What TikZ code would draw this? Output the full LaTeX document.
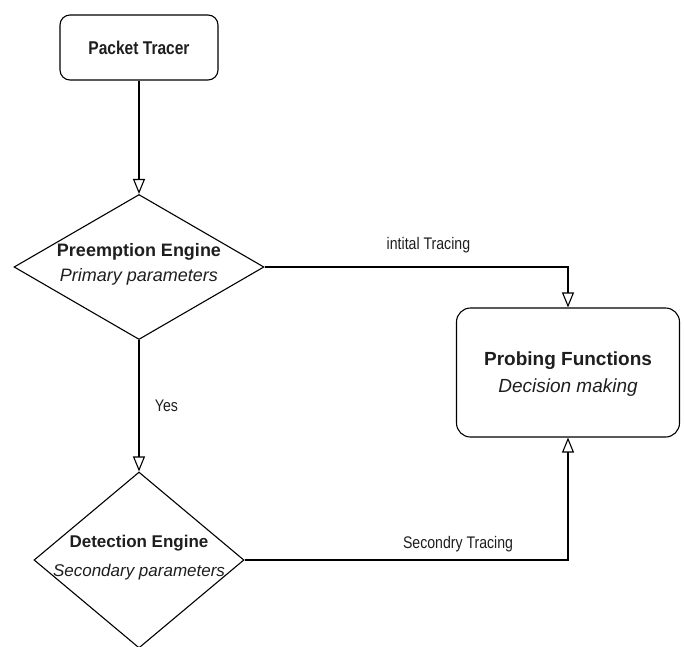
\documentclass[tikz,border=0pt]{standalone}
\usepackage{fontspec}
\setmainfont{Liberation Sans}
\newfontfamily\narrowsans{Liberation Sans}[FakeStretch=0.84]
\usepackage{tikz}
\usetikzlibrary{arrows.meta,shapes.geometric}
\definecolor{InkGray}{RGB}{30,30,30}
\begin{document}
\begin{tikzpicture}[>={Triangle[open,length=15pt,width=12pt]},x=1pt,y=-1pt,line width=1.1pt,
  box/.style={draw,rounded corners=10pt,inner sep=0pt},
  decision/.style={draw,diamond,inner sep=0pt},
  caption/.style={text=InkGray,align=center,inner sep=0pt},
  flowlabel/.style={text=InkGray,font=\narrowsans\fontsize{16.8}{19}\selectfont}]
\useasboundingbox (0,0) rectangle (684,646);
\node[box,minimum width=158pt,minimum height=65pt,text=InkGray,font=\narrowsans\bfseries\fontsize{18.5}{21}\selectfont] (tracer) at (139,47.5){Packet Tracer};
\node[decision,minimum width=250pt,minimum height=145pt] (preempt) at (139,267){};
\node[caption] (preempt-txt) at (139,264.5){{\bfseries\fontsize{18}{22}\selectfont Preemption Engine}\\[7pt]{\itshape\fontsize{18}{22}\selectfont Primary parameters}};
\node[decision,minimum width=210pt,minimum height=176pt] (detect) at (139,560){};
\node[caption] (detect-txt) at (139,557.5){{\bfseries\fontsize{17}{21}\selectfont Detection Engine}\\[12pt]{\itshape\fontsize{17}{21}\selectfont Secondary parameters}};
\node[box,rounded corners=14pt,minimum width=223pt,minimum height=129pt] (probe) at (568,372.5){};
\node[caption] (probe-txt) at (568,374){{\bfseries\fontsize{19}{23}\selectfont Probing Functions}\\[8pt]{\itshape\fontsize{19}{23}\selectfont Decision making}};
\draw[->] (tracer)--(preempt);
\draw[->] (preempt)--(detect) node[midway,right=12pt,flowlabel]{Yes};
\draw[->] (preempt.east)-|(probe.north) node[pos=.27,above=10pt,flowlabel]{intital Tracing};
\draw[->] (detect.east)-|(probe.south) node[pos=.33,above=4pt,flowlabel]{Secondry Tracing};
\end{tikzpicture}
\end{document}
